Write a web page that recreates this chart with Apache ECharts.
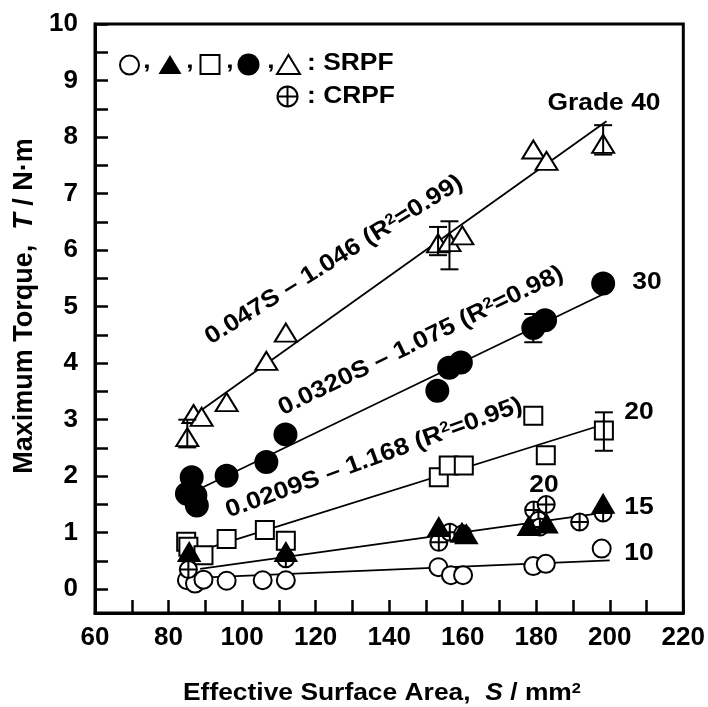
<!DOCTYPE html>
<html>
<head>
    <meta charset="utf-8" />
    <title>Maximum Torque vs Effective Surface Area</title>
    <script src="https://cdn.jsdelivr.net/npm/echarts@6/dist/echarts.min.js"></script>
    <style type="text/css">
        * { margin: 0; padding: 0; }
        html, body { width: 100%; height: 100%; background: #fff; }
        #chart { width: 708px; height: 707px; }
    </style>
</head>
<body>
    <div id="chart"></div>
</body>
</html>
<script type="text/javascript">
    // tick values
    var xTickVals = [60, 70, 80, 90, 100, 110, 120, 130, 140, 150, 160, 170, 180, 190, 200, 210, 220];
    var xLabelVals = [60, 80, 100, 120, 140, 160, 180, 200, 220];
    var yTickVals = [0, 0.5, 1, 1.5, 2, 2.5, 3, 3.5, 4, 4.5, 5, 5.5, 6, 6.5, 7, 7.5, 8, 8.5, 9, 9.5, 10];
    var yLabelVals = [0, 1, 2, 3, 4, 5, 6, 7, 8, 9, 10];

    // SRPF grade 10 (open circle)
    var grade10 = [[85.0, 0.16], [87.2, 0.10], [89.5, 0.17], [95.8, 0.15], [105.6, 0.16], [111.9, 0.16],
        [153.4, 0.39], [156.8, 0.25], [160.1, 0.25], [179.2, 0.41], [182.6, 0.45], [197.8, 0.72]];
    // SRPF grade 15 (filled triangle)
    var grade15 = [[85.6, 0.66], [111.9, 0.66], [153.5, 1.10], [159.8, 1.00], [161.0, 0.97],
        [178.0, 1.12], [182.8, 1.16], [198.2, 1.51]];
    // SRPF grade 20 (open square)
    var grade20 = [[84.8, 0.84], [85.4, 0.75], [89.5, 0.60], [95.8, 0.89], [106.2, 1.05], [111.9, 0.86],
        [153.5, 1.98], [156.2, 2.19], [160.3, 2.19], [179.2, 3.07], [182.6, 2.37], [198.4, 2.81]];
    // SRPF grade 30 (filled circle)
    var grade30 = [[86.3, 1.98], [85.0, 1.69], [87.3, 1.66], [87.7, 1.48], [95.8, 2.01], [106.6, 2.25], [111.8, 2.74],
        [153.1, 3.51], [156.3, 3.92], [159.5, 4.01], [179.2, 4.62], [182.4, 4.76], [198.2, 5.41]];
    // SRPF grade 40 (open triangle)
    var grade40 = [[85.1, 2.69], [86.8, 3.10], [89.0, 3.05], [95.8, 3.31], [106.6, 4.04], [111.9, 4.54],
        [153.3, 6.12], [156.4, 6.14], [159.9, 6.26], [179.2, 7.78], [182.8, 7.58], [198.2, 7.88]];
    // CRPF grade 20 (crossed circle)
    var crpf20 = [[85.4, 0.35], [111.9, 0.54], [153.5, 0.83], [156.5, 1.01], [160.0, 0.98], [179.3, 1.40],
        [182.7, 1.50], [180.6, 1.22], [181.0, 1.10], [191.8, 1.19], [198.2, 1.35]];

    // error bars: [S, low, high]
    var errBars = [[85.1, 2.51, 3.00], [153.3, 5.91, 6.41], [156.4, 5.66, 6.51], [198.2, 7.69, 8.21],
        [179.2, 4.37, 4.87], [198.4, 2.45, 3.13]];

    // fitted lines, end points
    var fit10 = [[90.4, 0.21], [200, 0.51]];
    var fit15 = [[88.6, 0.36], [200, 1.37]];
    var fit20 = [[89.5, 0.70], [200, 2.95]];
    var fit30 = [[89.5, 1.81], [198.2, 5.22]];
    var fit40 = [[88.1, 3.13], [199.1, 8.28]];

    var FONT = '"Liberation Sans", Arial, sans-serif';
    var crossPath = 'path://M0,-10A10,10 0 1,1 0,10A10,10 0 1,1 0,-10ZM-10,0L10,0M0,-10L0,10';

    function fitLine(d) {
        return {
            type: 'line', data: d, symbol: 'none', z: 1, silent: true,
            lineStyle: { color: '#000', width: 1.8 }
        };
    }

    function pts(d, symbol, size, fill, z) {
        return {
            type: 'scatter', data: d, symbol: symbol, symbolSize: size, z: z,
            itemStyle: { color: fill, borderColor: '#000', borderWidth: 2, opacity: 1 }
        };
    }

    function label(x, y, text, extra) {
        var el = {
            type: 'text', x: x, y: y, z: 100, scaleX: 1.1,
            style: {
                text: text, fill: '#000', fontSize: 24, fontWeight: 'bold', fontFamily: FONT,
                align: 'center', verticalAlign: 'middle'
            }
        };
        if (extra) {
            for (var k in extra) {
                if (k == 'style') {
                    for (var s in extra.style) el.style[s] = extra.style[s];
                } else {
                    el[k] = extra[k];
                }
            }
        }
        return el;
    }

    var supRich = {
        sup: { fontSize: 15, fontWeight: 'bold', fontFamily: FONT, verticalAlign: 'top', lineHeight: 24 }
    };

    var deg = Math.PI / 180;
    var graphics = [
        // legend
        { type: 'circle', shape: { cx: 129.5, cy: 65, r: 9.5 }, style: { fill: '#fff', stroke: '#000', lineWidth: 2 } },
        label(147, 61, ','),
        { type: 'polygon', shape: { points: [[170, 55], [181.5, 74], [158.5, 74]] }, style: { fill: '#000' } },
        label(190, 61, ','),
        { type: 'rect', shape: { x: 200.5, y: 55, width: 19, height: 19 }, style: { fill: '#fff', stroke: '#000', lineWidth: 2 } },
        label(230, 61, ','),
        { type: 'circle', shape: { cx: 248.5, cy: 64.5, r: 11 }, style: { fill: '#000' } },
        label(271, 61, ','),
        { type: 'polygon', shape: { points: [[288.5, 55], [300, 74], [277, 74]] }, style: { fill: '#fff', stroke: '#000', lineWidth: 2 } },
        label(307, 63, ': SRPF', { style: { align: 'left' } }),
        { type: 'circle', shape: { cx: 287.5, cy: 96.5, r: 10 }, style: { fill: '#fff', stroke: '#000', lineWidth: 2 } },
        { type: 'line', shape: { x1: 277.5, y1: 96.5, x2: 297.5, y2: 96.5 }, style: { stroke: '#000', lineWidth: 2 } },
        { type: 'line', shape: { x1: 287.5, y1: 86.5, x2: 287.5, y2: 106.5 }, style: { stroke: '#000', lineWidth: 2 } },
        label(307, 96, ': CRPF', { style: { align: 'left' } }),

        // grade labels
        label(604, 103, 'Grade 40'),
        label(647, 282, '30'),
        label(639, 412, '20'),
        label(639, 507, '15'),
        label(639, 553, '10'),
        label(544, 485, '20'),

        // regression equations
        label(334, 260, '0.047S – 1.046 (R{sup|2}=0.99)', { rotation: 32 * deg, style: { rich: supRich } }),
        label(421, 341, '0.0320S – 1.075 (R{sup|2}=0.98)', { rotation: 25.9 * deg, style: { rich: supRich } }),
        label(374, 458, '0.0209S – 1.168 (R{sup|2}=0.95)', { rotation: 19.9 * deg, style: { rich: supRich } }),

        // axis titles
        label(382, 693, 'Effective Surface Area,  {i|S} / mm{sup|2}', {
            style: {
                rich: {
                    i: { fontStyle: 'italic', fontWeight: 'bold', fontSize: 24, fontFamily: FONT },
                    sup: supRich.sup
                }
            }
        }),
        label(25, 306, 'Maximum Torque,  {i|T} / N·m', {
            rotation: 90 * deg, scaleX: 1.08, scaleY: 1.08,
            style: { fontSize: 25, rich: { i: { fontStyle: 'italic', fontWeight: 'bold', fontSize: 25, fontFamily: FONT } } }
        })
    ];

    var myChart = echarts.init(document.getElementById('chart'));

    var option = {
        backgroundColor: '#fff',
        animation: false,
        grid: {
            left: 95, top: 24, right: 22, bottom: 94,
            show: true, borderColor: '#000', borderWidth: 3
        },
        xAxis: {
            type: 'value', min: 60, max: 220,
            axisLine: { onZero: false, lineStyle: { color: '#000', width: 3 } },
            axisTick: { inside: true, length: 13, customValues: xTickVals, lineStyle: { color: '#000', width: 2.5 } },
            axisLabel: { customValues: xLabelVals, margin: 12, color: '#000', fontSize: 26, fontWeight: 'bold', fontFamily: FONT },
            splitLine: { show: false }
        },
        yAxis: {
            type: 'value', min: -0.42, max: 10,
            axisLine: { lineStyle: { color: '#000', width: 3 } },
            axisTick: { inside: true, length: 13, customValues: yTickVals, lineStyle: { color: '#000', width: 2.5 } },
            axisLabel: { customValues: yLabelVals, margin: 17, color: '#000', fontSize: 26, fontWeight: 'bold', fontFamily: FONT },
            splitLine: { show: false }
        },
        series: [
            fitLine(fit10), fitLine(fit15), fitLine(fit20), fitLine(fit30), fitLine(fit40),
            pts(grade10, 'circle', 18, '#fff', 2),
            pts(grade20, 'rect', 18, '#fff', 3),
            pts(crpf20, crossPath, 17, '#fff', 4),
            pts(grade15, 'triangle', [21, 18], '#000', 5),
            pts(grade30, 'circle', 22, '#000', 6),
            pts(grade40, 'triangle', [22, 18], '#fff', 7),
            {
                type: 'custom', z: 10, silent: true,
                data: errBars,
                renderItem: function (params, api) {
                    var lo = api.coord([api.value(0), api.value(1)]);
                    var hi = api.coord([api.value(0), api.value(2)]);
                    var w = 9;
                    var st = { stroke: '#000', lineWidth: 2 };
                    return {
                        type: 'group',
                        children: [
                            { type: 'line', shape: { x1: lo[0], y1: lo[1], x2: hi[0], y2: hi[1] }, style: st },
                            { type: 'line', shape: { x1: lo[0] - w, y1: lo[1], x2: lo[0] + w, y2: lo[1] }, style: st },
                            { type: 'line', shape: { x1: hi[0] - w, y1: hi[1], x2: hi[0] + w, y2: hi[1] }, style: st }
                        ]
                    };
                }
            }
        ],
        graphic: graphics
    };

    myChart.setOption(option);
</script>
